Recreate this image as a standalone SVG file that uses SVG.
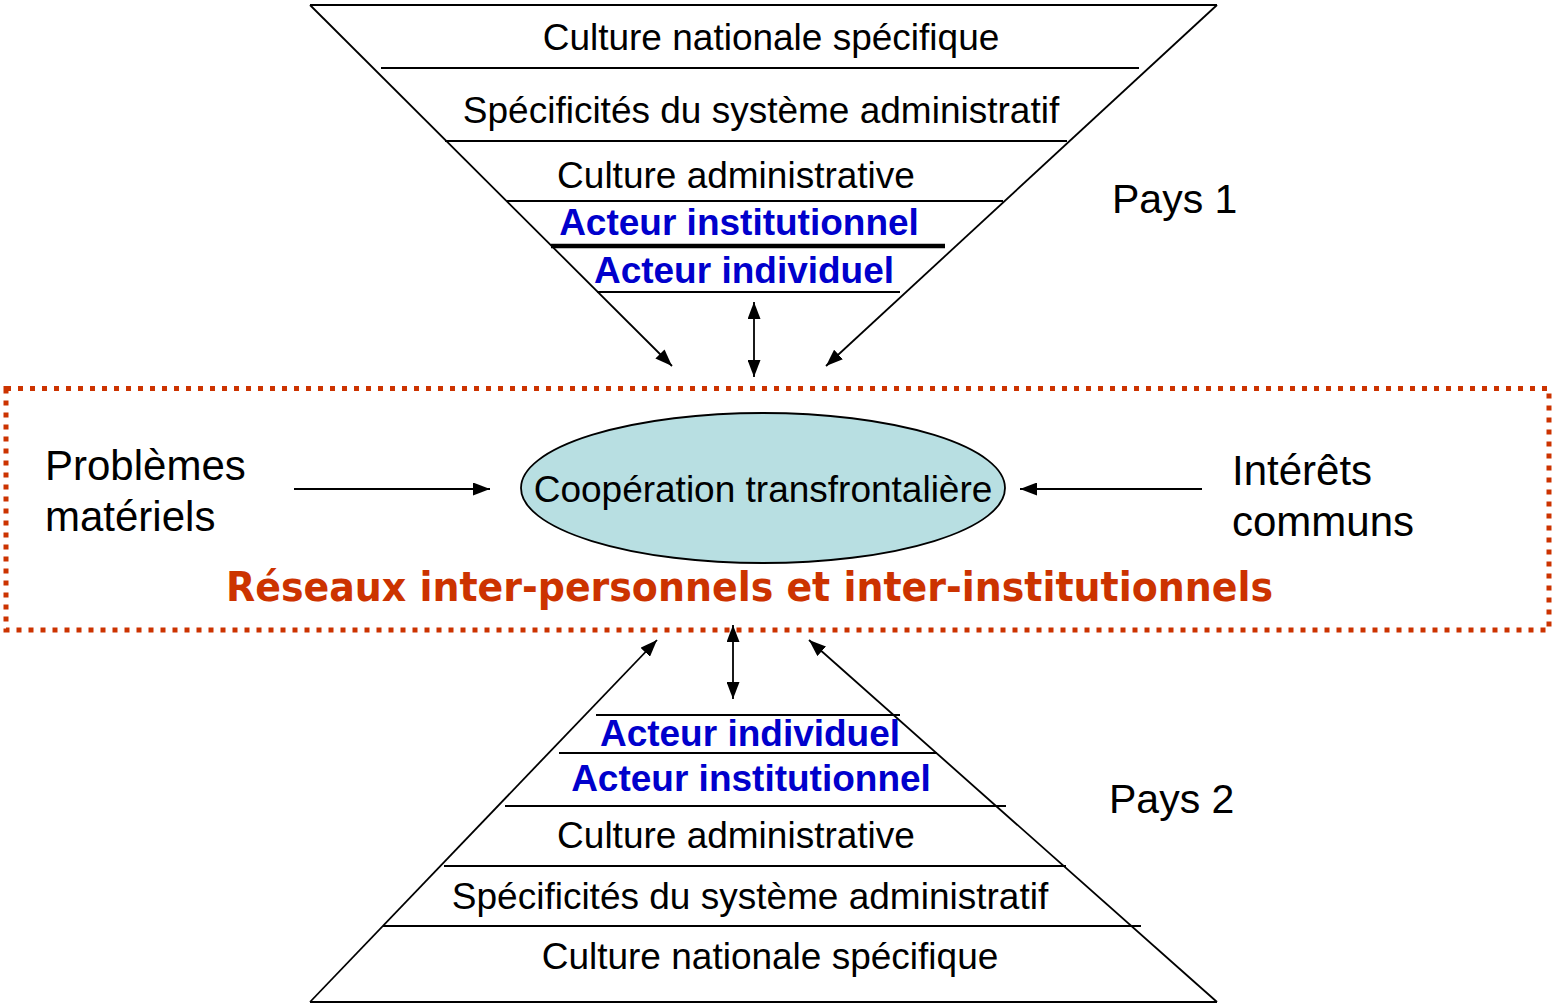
<svg xmlns="http://www.w3.org/2000/svg" width="1553" height="1005" viewBox="0 0 1553 1005">
<defs>
<marker id="ah" viewBox="0 0 17 13" refX="17" refY="6.5" markerWidth="17" markerHeight="13" markerUnits="userSpaceOnUse" orient="auto-start-reverse">
<path d="M0,0 L17,6.5 L0,13 z" fill="#000"/>
</marker>
<style>
.ln{stroke:#000;stroke-width:1.8;fill:none}
.t{font-family:"Liberation Sans",Arial,sans-serif;font-size:37px;fill:#000;text-anchor:middle}
.b{font-family:"Liberation Sans",Arial,sans-serif;font-size:37px;font-weight:bold;fill:#0000cc;text-anchor:middle}
.side{font-family:"Liberation Sans",Arial,sans-serif;font-size:42px;fill:#000}
.pays{font-family:"Liberation Sans",Arial,sans-serif;font-size:41px;fill:#000}
.conn{stroke:#000;stroke-width:1.8;fill:none;marker-end:url(#ah)}
.dbl{stroke:#000;stroke-width:1.8;fill:none;marker-end:url(#ah);marker-start:url(#ah)}
</style>
</defs>
<rect width="1553" height="1005" fill="#fff"/>

<g id="reseau">
<rect x="6" y="388.5" width="1543" height="241.5" fill="none" stroke="#cc3300" stroke-width="5" stroke-dasharray="5 7"/>
<text x="749.5" y="601" font-family="'DejaVu Sans',Verdana,sans-serif" font-size="40" font-weight="bold" fill="#cc3300" text-anchor="middle" textLength="1047" lengthAdjust="spacingAndGlyphs">Réseaux inter-personnels et inter-institutionnels</text>
</g>

<g id="pays1">
<line class="ln" x1="310" y1="5" x2="1217" y2="5"/>
<line class="ln" x1="381" y1="68" x2="1139" y2="68"/>
<line class="ln" x1="445" y1="141" x2="1067" y2="141"/>
<line class="ln" x1="507" y1="201" x2="1003" y2="201"/>
<line x1="551" y1="246" x2="945" y2="246" stroke="#000" stroke-width="4.5"/>
<line class="ln" x1="597" y1="292" x2="900" y2="292"/>
<text class="t" x="771" y="50">Culture nationale spécifique</text>
<text class="t" x="761" y="123">Spécificités du système administratif</text>
<text class="t" x="736" y="188">Culture administrative</text>
<text class="b" x="739" y="235">Acteur institutionnel</text>
<text class="b" x="744" y="283">Acteur individuel</text>
<text class="pays" x="1112" y="213">Pays 1</text>
</g>

<g id="pays2">
<line class="ln" x1="310" y1="1002" x2="1217" y2="1002"/>
<line class="ln" x1="383" y1="926" x2="1141" y2="926"/>
<line class="ln" x1="444" y1="866" x2="1066" y2="866"/>
<line class="ln" x1="505" y1="806" x2="1006" y2="806"/>
<line class="ln" x1="559" y1="753" x2="937" y2="753"/>
<line class="ln" x1="596" y1="715" x2="900" y2="715"/>
<text class="b" x="750" y="746">Acteur individuel</text>
<text class="b" x="751" y="791">Acteur institutionnel</text>
<text class="t" x="736" y="848">Culture administrative</text>
<text class="t" x="750" y="909">Spécificités du système administratif</text>
<text class="t" x="770" y="969">Culture nationale spécifique</text>
<text class="pays" x="1109" y="813">Pays 2</text>
</g>

<g id="cooperation">
<ellipse cx="763" cy="488" rx="242" ry="75" fill="#b8dfe2" stroke="#000" stroke-width="1.8"/>
<text class="t" x="763" y="502">Coopération transfrontalière</text>
</g>

<g id="problemes">
<text class="side" x="45" y="480">Problèmes</text>
<text class="side" x="45" y="531">matériels</text>
</g>

<g id="interets">
<text class="side" x="1232" y="485">Intérêts</text>
<text class="side" x="1232" y="536">communs</text>
</g>

<g id="connectors">
<line class="conn" x1="310" y1="5" x2="672" y2="366"/>
<line class="conn" x1="1217" y1="5" x2="826" y2="366"/>
<line class="dbl" x1="754" y1="302" x2="754" y2="377"/>
<line class="conn" x1="310" y1="1002" x2="657" y2="640"/>
<line class="conn" x1="1217" y1="1002" x2="809" y2="640"/>
<line class="dbl" x1="733" y1="625" x2="733" y2="699"/>
<line class="conn" x1="294" y1="489" x2="490" y2="489"/>
<line class="conn" x1="1202" y1="489" x2="1020" y2="489"/>
</g>
</svg>
